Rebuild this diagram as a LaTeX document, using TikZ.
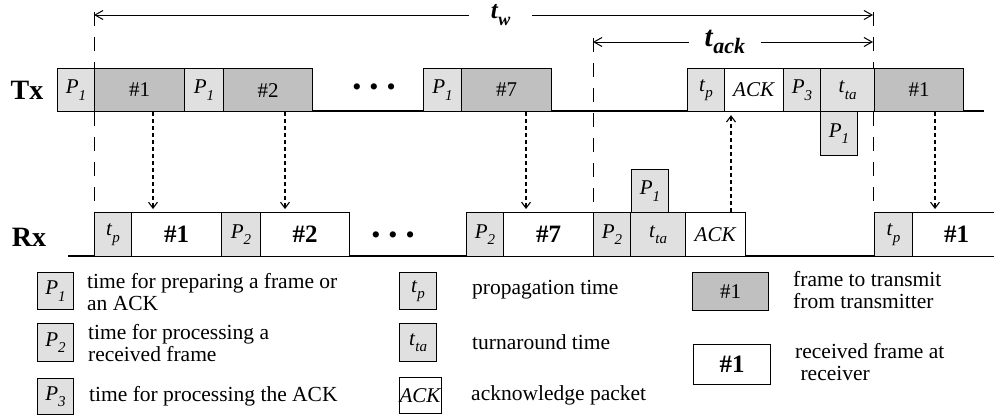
\documentclass[tikz,border=0pt]{standalone}
\usepackage{fontspec}
\setmainfont{Liberation Serif}
\usetikzlibrary{arrows.meta}
\definecolor{lightg}{HTML}{E0E0E0}
\definecolor{darkg}{HTML}{C0C0C0}
\newcommand{\isub}[3][15]{\textit{#2}\raisebox{-0.3em}{\fontsize{#1}{#1}\selectfont\textit{#3}}}
\newcommand{\bsub}[3][18]{\textbf{\textit{#2}}\raisebox{-0.25em}{\fontsize{#1}{#1}\selectfont\textbf{\textit{#3}}}}
\tikzset{
  bx/.style={draw=black, line width=1.1pt, inner sep=0pt, anchor=north west, font=\fontsize{21}{21}\selectfont},
  lt/.style={bx, fill=lightg},
  dk/.style={bx, fill=darkg},
  wt/.style={bx, fill=white},
  bfnum/.style={font=\fontsize{25}{25}\selectfont\bfseries},
  dashline/.style={line width=1pt, dash pattern=on 14pt off 11pt},
  dotarrow/.style={line width=1.1pt, dash pattern=on 4pt off 3pt, -{Straight Barb[length=6pt,width=9pt]}},
  dimarrow/.style={line width=1pt, {Straight Barb[length=8pt,width=9pt]}-{Straight Barb[length=8pt,width=9pt]}},
  lgtext/.style={anchor=west, align=left, inner sep=0pt, font=\fontsize{21.5}{22}\selectfont},
  rowlabel/.style={font=\fontsize{28}{28}\selectfont\bfseries},
  dots/.style={font=\fontsize{26}{26}\selectfont}
}
\begin{document}
\begin{tikzpicture}[x=1pt,y=-1pt]
\useasboundingbox (0,0) rectangle (994,416);
% coordinates
\coordinate (w0) at (94,12);
\coordinate (a0) at (593,38);
\coordinate (e0) at (873,12);
\coordinate (wl) at (94,15);
\coordinate (wr) at (873,15);
\coordinate (al) at (593,42);
\coordinate (ar) at (873,42);
\coordinate (txs) at (57,111);
\coordinate (txe) at (984,111);
\coordinate (rxs) at (68,256);
\coordinate (rxe) at (994,256);
\coordinate (w1) at (94,212);
\coordinate (a1) at (593,212);
\coordinate (e1) at (873,212);
% dashed time marks
\draw[dashline] (w0) -- (w1);
\draw[dashline] (a0) -- (a1);
\draw[dashline] (e0) -- (e1);
% base lines
\draw[line width=1.1pt] (txs) -- (txe);
\draw[line width=1.1pt] (rxs) -- (rxe);
% dimension arrows
\draw[dimarrow] (wl) -- node[pos=0.522, fill=white, inner xsep=22pt, inner ysep=2pt] {\fontsize{25}{25}\selectfont\bsub{t}{w}} (wr);
\draw[dimarrow] (al) -- node[pos=0.471, fill=white, inner xsep=16pt, inner ysep=2pt] {\fontsize{29}{29}\selectfont\bsub[22]{t}{ack}} (ar);
% row labels
\node[rowlabel] (tx) at (27,90) {Tx};
\node[rowlabel] (rx) at (29,237) {Rx};
% Tx boxes
\node[lt, minimum width=37pt, minimum height=43pt] (txpa) at (57,68) {\isub{P}{1}};
\node[dk, minimum width=90pt, minimum height=43pt] (txf1) at (94,68) {\#1};
\node[lt, minimum width=39pt, minimum height=43pt] (txpb) at (184,68) {\isub{P}{1}};
\node[dk, minimum width=89pt, minimum height=43pt] (txf2) at (223,68) {\#2};
\node[dots] (txdots) at (374,90) {\textbullet\hspace{8pt}\textbullet\hspace{8pt}\textbullet};
\node[lt, minimum width=38pt, minimum height=43pt] (txpc) at (423,68) {\isub{P}{1}};
\node[dk, minimum width=90pt, minimum height=43pt] (txf7) at (461,68) {\#7};
\node[lt, minimum width=37pt, minimum height=43pt] (txtp) at (687,68) {\isub{t}{p}};
\node[wt, minimum width=59pt, minimum height=43pt] (txack) at (724,68) {\textit{ACK}};
\node[lt, minimum width=37pt, minimum height=43pt] (txp3) at (783,68) {\isub{P}{3}};
\node[lt, minimum width=54pt, minimum height=43pt] (txtta) at (820,68) {\isub{t}{ta}};
\node[dk, minimum width=89pt, minimum height=43pt] (txf1b) at (874,68) {\#1};
\node[lt, minimum width=37pt, minimum height=44pt] (txpd) at (820,111) {\isub{P}{1}};
% Rx boxes
\node[lt, minimum width=37pt, minimum height=44pt] (rxtp) at (94,212) {\isub{t}{p}};
\node[wt, bfnum, minimum width=90pt, minimum height=44pt] (rxf1) at (131,212) {\#1};
\node[lt, minimum width=39pt, minimum height=44pt] (rxpa) at (221,212) {\isub{P}{2}};
\node[wt, bfnum, minimum width=89pt, minimum height=44pt] (rxf2) at (260,212) {\#2};
\node[dots] (rxdots) at (393,238) {\textbullet\hspace{8pt}\textbullet\hspace{8pt}\textbullet};
\node[lt, minimum width=37pt, minimum height=44pt] (rxpb) at (466,212) {\isub{P}{2}};
\node[wt, bfnum, minimum width=90pt, minimum height=44pt] (rxf7) at (503,212) {\#7};
\node[lt, minimum width=37pt, minimum height=44pt] (rxpc) at (593,212) {\isub{P}{2}};
\node[lt, minimum width=55pt, minimum height=44pt] (rxtta) at (630,212) {\isub{t}{ta}};
\node[wt, minimum width=60pt, minimum height=44pt] (rxack) at (685,212) {\textit{ACK}};
\node[lt, minimum width=37pt, minimum height=43pt] (rxpd) at (631,169) {\isub{P}{1}};
\node[lt, minimum width=38pt, minimum height=44pt] (rxtp2) at (874,212) {\isub{t}{p}};
\node[wt, bfnum, minimum width=88pt, minimum height=44pt] (rxf1b) at (912,212) {\#1};
% dotted arrows
\draw[dotarrow] ([xshift=59pt]txf1.south west) -- ([xshift=22pt,yshift=3pt]rxf1.north west);
\draw[dotarrow] ([xshift=62pt]txf2.south west) -- ([xshift=25pt,yshift=3pt]rxf2.north west);
\draw[dotarrow] ([xshift=65pt]txf7.south west) -- ([xshift=23pt,yshift=3pt]rxf7.north west);
\draw[dotarrow] ([xshift=61pt]txf1b.south west) -- ([xshift=23pt,yshift=3pt]rxf1b.north west);
\draw[dotarrow] ([xshift=46pt]rxack.north west) -- ([xshift=7pt,yshift=-3pt]txack.south west);
% legend
\node[lt, minimum width=36pt, minimum height=37pt] (lgp1) at (37,272) {\isub{P}{1}};
\node[lgtext] (lgp1t) at (87,292) {time for preparing a frame or\\an ACK};
\node[lt, minimum width=36pt, minimum height=38pt] (lgp2) at (37,323) {\isub{P}{2}};
\node[lgtext] (lgp2t) at (88,343) {time for processing a\\received frame};
\node[lt, minimum width=36pt, minimum height=36pt] (lgp3) at (37,378) {\isub{P}{3}};
\node[lgtext] (lgp3t) at (89,396) {time for processing the ACK};
\node[lt, minimum width=37pt, minimum height=37pt] (lgtp) at (399,272) {\isub{t}{p}};
\node[lgtext] (lgtpt) at (472,290) {propagation time};
\node[lt, minimum width=37pt, minimum height=38pt] (lgtta) at (399,323) {\isub{t}{ta}};
\node[lgtext] (lgttat) at (472,342) {turnaround time};
\node[wt, minimum width=37pt, minimum height=36pt] (lgack) at (399,377) {\textit{ACK}};
\node[lgtext] (lgackt) at (471,395) {acknowledge packet};
\node[dk, minimum width=76pt, minimum height=38pt] (lgf1) at (692,272) {\#1};
\node[lgtext] (lgf1t) at (793,290) {frame to transmit\\from transmitter};
\node[wt, bfnum, minimum width=77pt, minimum height=40pt] (lgr1) at (693,344) {\#1};
\node[lgtext] (lgr1t) at (795,362) {received frame at\\\ receiver};
\end{tikzpicture}
\end{document}
